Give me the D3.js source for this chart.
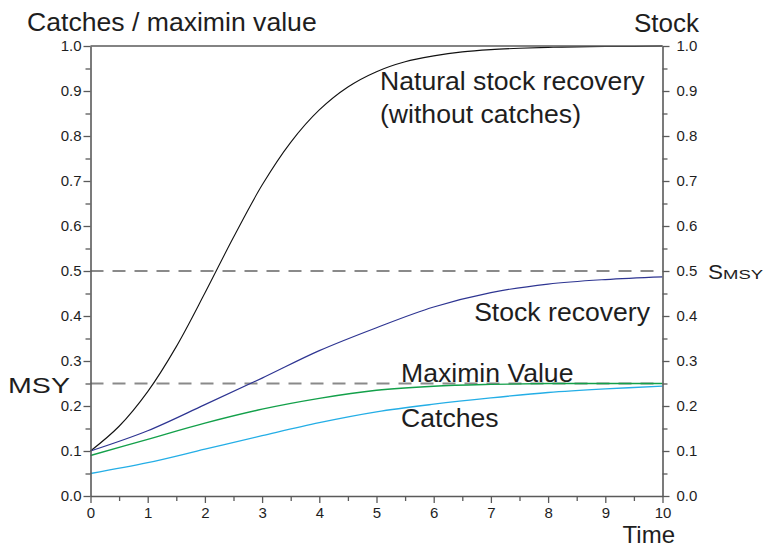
<!DOCTYPE html>
<html>
<head>
<meta charset="utf-8">
<script src="https://cdn.jsdelivr.net/npm/d3@7"></script>
<style>
  html, body { margin: 0; padding: 0; background: #fff; }
  svg { display: block; font-family: "Liberation Sans", Arial, sans-serif; }
</style>
</head>
<body>
<svg id="chart" width="765" height="549"></svg>
<script>
// Time points
const timeFine = [0, 0.5, 1, 1.5, 2, 2.5, 3, 3.5, 4, 4.5, 5, 5.5, 6, 6.5, 7, 7.5, 8, 8.5, 9, 9.5, 10];
const timeCoarse = [0, 1, 2, 3, 4, 5, 6, 7, 8, 9, 10];

// Natural stock recovery (without catches)
const naturalStock = [0.100, 0.155, 0.232, 0.332, 0.451, 0.575, 0.691, 0.786, 0.858, 0.909, 0.943,
                      0.965, 0.978, 0.987, 0.992, 0.995, 0.997, 0.998, 0.999, 0.999, 1.000];
// Stock recovery under maximin catches
const stockRecovery = [0.100, 0.145, 0.203, 0.262, 0.323, 0.374, 0.420, 0.452, 0.471, 0.481, 0.487];
// Maximin value
const maximinValue = [0.090, 0.126, 0.162, 0.193, 0.217, 0.235, 0.244, 0.248, 0.250, 0.250, 0.250];
// Catches
const catches = [0.050, 0.074, 0.104, 0.134, 0.163, 0.187, 0.204, 0.218, 0.230, 0.238, 0.244];

// Reference levels
const msyLevel = 0.25;
const smsyLevel = 0.5;

// Axis ticks
const yTicks = [0, 0.1, 0.2, 0.3, 0.4, 0.5, 0.6, 0.7, 0.8, 0.9, 1.0];
const yMinorTicks = [0.05, 0.15, 0.25, 0.35, 0.45, 0.55, 0.65, 0.75, 0.85, 0.95];
const xTicks = [0, 1, 2, 3, 4, 5, 6, 7, 8, 9, 10];
const xMinorTicks = [0.5, 1.5, 2.5, 3.5, 4.5, 5.5, 6.5, 7.5, 8.5, 9.5];

const svg = d3.select("#chart");
const plotLeft = 90.5, plotRight = 662.5, plotTop = 46, plotBottom = 496;

const x = d3.scaleLinear().domain([0, 10]).range([plotLeft, plotRight]);
const y = d3.scaleLinear().domain([0, 1]).range([plotBottom, plotTop]);

const axisColor = "#5a5a5a";
const textColor = "#1e1e1e";

// Reference dashed lines
[msyLevel, smsyLevel].forEach(v => {
  svg.append("line")
    .attr("x1", x(0)).attr("x2", x(10))
    .attr("y1", y(v)).attr("y2", y(v))
    .attr("stroke", "#8a8a8a").attr("stroke-width", 1.8)
    .attr("stroke-dasharray", "13,9");
});

// Curves
const line = d3.line().x(d => x(d[0])).y(d => y(d[1])).curve(d3.curveCatmullRom.alpha(0.5));
const series = [
  { t: timeFine, v: naturalStock, color: "#111111", w: 1.1 },
  { t: timeCoarse, v: stockRecovery, color: "#2e3592", w: 1.2 },
  { t: timeCoarse, v: maximinValue, color: "#13a04a", w: 1.4 },
  { t: timeCoarse, v: catches, color: "#24aee6", w: 1.3 }
];
series.forEach(s => {
  svg.append("path")
    .datum(s.t.map((t, i) => [t, s.v[i]]))
    .attr("d", line)
    .attr("fill", "none")
    .attr("stroke", s.color)
    .attr("stroke-width", s.w);
});

// Axes
function styleAxis(g) {
  g.select(".domain").attr("stroke", axisColor).attr("stroke-width", 1.6);
  g.selectAll(".tick line").attr("stroke", axisColor).attr("stroke-width", 1.3);
  g.selectAll(".tick text").attr("fill", textColor)
    .style("font-size", "15px").style("font-family", "'Liberation Sans', Arial, sans-serif");
}
function styleMinor(g) {
  g.select(".domain").remove();
  g.selectAll(".tick line").attr("stroke", axisColor).attr("stroke-width", 1.3);
}
const fmt = d3.format(".1f");

svg.append("g").attr("transform", `translate(${plotLeft},0)`)
  .call(d3.axisLeft(y).tickValues(yMinorTicks).tickSize(5).tickFormat("").tickSizeOuter(0))
  .call(styleMinor);
svg.append("g").attr("transform", `translate(${plotLeft},0)`)
  .call(d3.axisLeft(y).tickValues(yTicks).tickSize(7).tickPadding(2).tickFormat(fmt).tickSizeOuter(0))
  .call(styleAxis);

svg.append("g").attr("transform", `translate(${plotRight},0)`)
  .call(d3.axisRight(y).tickValues(yMinorTicks).tickSize(5).tickFormat("").tickSizeOuter(0))
  .call(styleMinor);
svg.append("g").attr("transform", `translate(${plotRight},0)`)
  .call(d3.axisRight(y).tickValues(yTicks).tickSize(7).tickPadding(7).tickFormat(fmt).tickSizeOuter(0))
  .call(styleAxis);

svg.append("g").attr("transform", `translate(0,${plotBottom})`)
  .call(d3.axisBottom(x).tickValues(xMinorTicks).tickSize(5).tickFormat("").tickSizeOuter(0))
  .call(styleMinor);
svg.append("g").attr("transform", `translate(0,${plotBottom})`)
  .call(d3.axisBottom(x).tickValues(xTicks).tickSize(7).tickPadding(4).tickFormat(d3.format("d")).tickSizeOuter(0))
  .call(styleAxis);

// Top frame line
svg.append("line")
  .attr("x1", plotLeft).attr("x2", plotRight).attr("y1", plotTop).attr("y2", plotTop)
  .attr("stroke", axisColor).attr("stroke-width", 1.6);

// Titles and labels
function label(txt, px, py, size, anchor) {
  return svg.append("text")
    .attr("x", px).attr("y", py)
    .attr("fill", textColor)
    .attr("text-anchor", anchor || "start")
    .style("font-size", size + "px")
    .text(txt);
}
label("Catches / maximin value", 27, 31, 26.6);
label("Stock", 699, 32, 26, "end");
label("Time", 675, 543, 24, "end");
label("Natural stock recovery", 380, 90, 26.6);
label("(without catches)", 380, 123, 26.6);
label("Stock recovery", 650, 321, 26.6, "end");
label("Maximin Value", 401, 382, 26.6);
label("Catches", 401, 427, 26.6);

// MSY label (left)
label("MSY", 8, 393, 22).attr("textLength", 62).attr("lengthAdjust", "spacingAndGlyphs");

// S_MSY label (right)
const smsy = svg.append("text")
  .attr("x", 708).attr("y", 279)
  .attr("fill", textColor);
smsy.append("tspan").style("font-size", "20px").attr("textLength", 15)
  .attr("lengthAdjust", "spacingAndGlyphs").text("S");
smsy.append("tspan").style("font-size", "13px").attr("textLength", 40)
  .attr("lengthAdjust", "spacingAndGlyphs").text("MSY");
</script>
</body>
</html>
